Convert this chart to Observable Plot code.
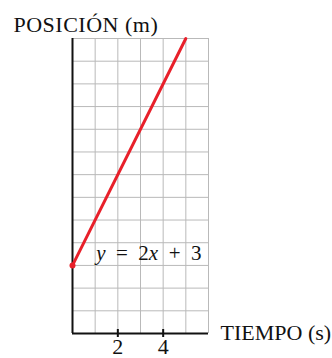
<!DOCTYPE html>
<html>
<head>
<meta charset="utf-8">
<script src="https://cdn.jsdelivr.net/npm/d3@7"></script>
<script src="https://cdn.jsdelivr.net/npm/@observablehq/plot@0.6"></script>
<style>
  html, body { margin: 0; padding: 0; background: #fff; }
  svg { display: block; }
</style>
</head>
<body>
<div id="chart"></div>
<script>
// Data
const lineX = [0, 5];                 // tiempo (s)
const lineY = [3, 13];                // posición (m): y = 2x + 3
const startPoint = [{x: 0, y: 3}];
const gridXTicks = [0, 1, 2, 3, 4, 5, 6];
const gridYTicks = [0, 1, 2, 3, 4, 5, 6, 7, 8, 9, 10, 11, 12, 13];
const xTickLabels = [2, 4];
const equationLabel = [{x: 1.0, y: 3.55, text: "y = 2x + 3"}];
const yTitle = "POSICIÓN (m)";
const xTitle = "TIEMPO (s)";

const lineData = lineX.map((x, i) => ({x, y: lineY[i]}));
const FONT = "Liberation Serif, Times New Roman, serif";

const chart = Plot.plot({
  width: 332,
  height: 358,
  marginLeft: 72,
  marginRight: 124,
  marginTop: 38,
  marginBottom: 25,
  style: {fontFamily: FONT, background: "#fff", color: "#111"},
  x: {domain: [0, 6], axis: null},
  y: {domain: [0, 13], axis: null},
  marks: [
    Plot.ruleX(gridXTicks, {stroke: "#b9b9b9", strokeWidth: 1}),
    Plot.ruleY(gridYTicks, {stroke: "#b9b9b9", strokeWidth: 1}),
    Plot.ruleX([0], {stroke: "#111", strokeWidth: 2}),
    Plot.ruleY([0], {stroke: "#111", strokeWidth: 2}),
    Plot.ruleX(xTickLabels, {y1: 0, y2: 0, insetTop: -4, insetBottom: -4, stroke: "#111", strokeWidth: 2}),
    Plot.text(xTickLabels, {x: d => d, y: 0, text: d => String(d), dy: 20, lineAnchor: "bottom", fontSize: 22, fill: "#111"}),
    Plot.line(lineData, {x: "x", y: "y", stroke: "#e8202a", strokeWidth: 3}),
    Plot.dot(startPoint, {x: "x", y: "y", r: 3, fill: "#e8202a"}),
    Plot.text(equationLabel, {x: "x", y: "y", text: "text", textAnchor: "start", lineAnchor: "middle", dx: 1, fontSize: 21, fill: "#111", className: "eq"}),
    Plot.text([yTitle], {frameAnchor: "top-left", dx: -59, dy: -7, textAnchor: "start", lineAnchor: "bottom", fontSize: 22, fill: "#111", className: "ytitle"}),
    Plot.text([xTitle], {frameAnchor: "bottom-right", dx: 12, dy: 6, textAnchor: "start", lineAnchor: "bottom", fontSize: 22, fill: "#111"})
  ]
});

// Typeset the equation with italic variables
d3.select(chart).selectAll("g.eq text").each(function() {
  const t = d3.select(this);
  t.text(null);
  const parts = [["y", true], ["\u2002=\u20022", false], ["x", true], ["\u2002+\u20023", false]];
  for (const [p, it] of parts) {
    const ts = t.append("tspan").text(p);
    if (it) ts.attr("font-style", "italic");
  }
});
d3.select(chart).selectAll("g.ytitle text").style("letter-spacing", "0.5px");

document.getElementById("chart").appendChild(chart);
</script>
</body>
</html>
